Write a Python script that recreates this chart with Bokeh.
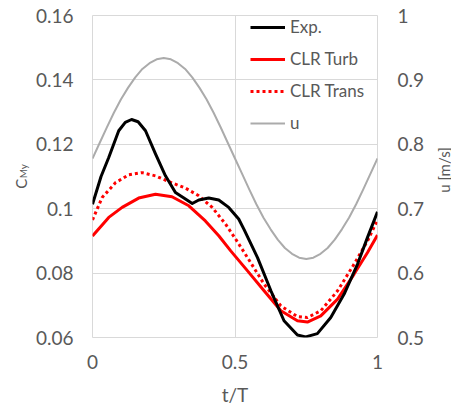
import math

from bokeh.embed import file_html
from bokeh.models import (ColumnDataSource, FixedTicker, Label, Legend,
                          LegendItem, LinearAxis, Range1d)
from bokeh.plotting import figure
from bokeh.resources import INLINE

# Measured moment coefficient C_My over one period (t/T)
exp_t = [0.0, 0.03, 0.057, 0.092, 0.115, 0.137, 0.16, 0.186, 0.221, 0.256,
         0.291, 0.326, 0.35, 0.373, 0.408, 0.443, 0.478, 0.513, 0.532, 0.579,
         0.626, 0.672, 0.719, 0.748, 0.789, 0.836, 0.883, 0.93, 0.965, 1.0]
exp_cmy = [0.1014, 0.1100, 0.1159, 0.1242, 0.1268, 0.1277, 0.1270, 0.1242,
           0.1170, 0.1102, 0.1050, 0.1030, 0.1016, 0.1027, 0.1033, 0.1027,
           0.1004, 0.0968, 0.0935, 0.0848, 0.0745, 0.0652, 0.0608, 0.0602,
           0.0612, 0.0662, 0.0735, 0.0828, 0.0911, 0.0990]

# CLR model, turbulent
turb_t = [0.0, 0.057, 0.104, 0.162, 0.221, 0.279, 0.338, 0.396, 0.443, 0.485,
          0.544, 0.602, 0.661, 0.719, 0.754, 0.801, 0.86, 0.918, 0.965, 1.0]
turb_cmy = [0.0915, 0.0973, 0.1004, 0.1033, 0.1045, 0.1037, 0.1009, 0.0962,
            0.0916, 0.0869, 0.0807, 0.0745, 0.0683, 0.0652, 0.0648, 0.0667,
            0.0719, 0.0797, 0.0864, 0.0918]

# CLR model, transitional
trans_t = [0.0, 0.034, 0.081, 0.127, 0.174, 0.221, 0.268, 0.326, 0.373, 0.42,
           0.467, 0.502, 0.544, 0.602, 0.661, 0.719, 0.754, 0.801, 0.86,
           0.918, 0.965, 1.0]
trans_cmy = [0.0965, 0.1035, 0.1081, 0.1105, 0.1112, 0.1102, 0.1084, 0.1064,
             0.1040, 0.1004, 0.0952, 0.0906, 0.0848, 0.0766, 0.0698, 0.0665,
             0.0662, 0.0683, 0.0745, 0.0828, 0.0900, 0.0965]

# Flow velocity u [m/s] (secondary axis)
u_t = [0.0, 0.025, 0.05, 0.075, 0.1, 0.125, 0.15, 0.175, 0.2, 0.225, 0.25,
       0.275, 0.3, 0.325, 0.35, 0.375, 0.4, 0.425, 0.45, 0.475, 0.5,
       0.525, 0.55, 0.575, 0.6, 0.625, 0.65, 0.675, 0.7, 0.725, 0.75,
       0.775, 0.8, 0.825, 0.85, 0.875, 0.9, 0.925, 0.95, 0.975, 1.0]
u_val = [0.778, 0.802, 0.826, 0.849, 0.870, 0.888, 0.904, 0.917, 0.926,
         0.932, 0.934, 0.932, 0.926, 0.917, 0.904, 0.888, 0.870, 0.849,
         0.826, 0.802, 0.778, 0.754, 0.730, 0.707, 0.686, 0.668, 0.652,
         0.639, 0.630, 0.624, 0.622, 0.624, 0.630, 0.639, 0.652, 0.668,
         0.686, 0.707, 0.730, 0.754, 0.778]

# Axis ticks and their labels
x_ticks = [0, 0.5, 1]
x_tick_labels = ["0", "0.5", "1"]
cmy_ticks = [0.06, 0.08, 0.10, 0.12, 0.14, 0.16]
cmy_tick_labels = ["0.06", "0.08", "0.1", "0.12", "0.14", "0.16"]
u_ticks = [0.5, 0.6, 0.7, 0.8, 0.9, 1.0]
u_tick_labels = ["0.5", "0.6", "0.7", "0.8", "0.9", "1"]

FONT = "Lato"
TXT = "#595959"
GRID = "#d9d9d9"

p = figure(width=451, height=410, output_backend="svg", toolbar_location=None,
           x_range=Range1d(0, 1), y_range=Range1d(0.06, 0.16),
           min_border_left=92, min_border_right=74, min_border_top=15,
           min_border_bottom=73)
p.extra_y_ranges = {"u": Range1d(0.5, 1.0)}
p.background_fill_color = "white"
p.border_fill_color = "white"
p.outline_line_color = GRID
p.outline_line_width = 1

u_axis = LinearAxis(y_range_name="u")
p.add_layout(u_axis, "right")


def style_axis(ax, ticks, labels, standoff):
    ax.ticker = FixedTicker(ticks=ticks)
    ax.major_label_overrides = {t: l for t, l in zip(ticks, labels)}
    ax.axis_line_color = None
    ax.major_tick_line_color = None
    ax.minor_tick_line_color = None
    ax.major_tick_out = 0
    ax.major_tick_in = 0
    ax.major_label_standoff = standoff
    ax.major_label_text_font = FONT
    ax.major_label_text_font_size = "19px"
    ax.major_label_text_color = TXT


style_axis(p.xaxis[0], x_ticks, x_tick_labels, 17)
style_axis(p.yaxis[0], cmy_ticks, cmy_tick_labels, 19)
style_axis(u_axis, u_ticks, u_tick_labels, 20)

p.xaxis[0].axis_label = "t/T"
p.xaxis[0].axis_label_text_font = FONT
p.xaxis[0].axis_label_text_font_size = "19px"
p.xaxis[0].axis_label_text_font_style = "normal"
p.xaxis[0].axis_label_text_color = TXT
p.xaxis[0].axis_label_standoff = 11

p.xgrid.ticker = FixedTicker(ticks=x_ticks)
p.ygrid.ticker = FixedTicker(ticks=cmy_ticks)
p.xgrid.grid_line_color = GRID
p.ygrid.grid_line_color = GRID

src_u = ColumnDataSource(dict(t=u_t, v=u_val))
src_trans = ColumnDataSource(dict(t=trans_t, v=trans_cmy))
src_turb = ColumnDataSource(dict(t=turb_t, v=turb_cmy))
src_exp = ColumnDataSource(dict(t=exp_t, v=exp_cmy))

r_u = p.line("t", "v", source=src_u, y_range_name="u", color="#ababab",
             line_width=2, line_join="round")
r_trans = p.line("t", "v", source=src_trans, color="#ff0000", line_width=3,
                 line_dash="3 3", line_join="round")
r_turb = p.line("t", "v", source=src_turb, color="#ff0000", line_width=3,
                line_join="round")
r_exp = p.line("t", "v", source=src_exp, color="#000000", line_width=3,
               line_join="round")

legend = Legend(items=[LegendItem(label="Exp.", renderers=[r_exp]),
                       LegendItem(label="CLR Turb", renderers=[r_turb]),
                       LegendItem(label="CLR Trans", renderers=[r_trans]),
                       LegendItem(label="u", renderers=[r_u])],
                location=(158, 204), orientation="vertical",
                padding=0, margin=0, spacing=11,
                glyph_width=35, glyph_height=20, label_height=20,
                label_standoff=5, border_line_color=None,
                background_fill_alpha=0,
                label_text_font=FONT, label_text_font_size="17px",
                label_text_color=TXT)
p.add_layout(legend, "center")


def px_to_t(sx):
    return (sx - 91.7) / 285


def px_to_cmy(sy):
    return 0.16 - (sy - 14.7) / 3220


# Rotated axis titles (C with subscript My on the left, u [m/s] on the
# right), kept in the side panels so they sit outside the plot frame.
title_c = Label(x=px_to_t(20.5), y=px_to_cmy(188), text="C",
                angle=math.pi / 2, text_font=FONT, text_font_size="15px",
                text_color=TXT, text_align="left", text_baseline="alphabetic")
title_my = Label(x=px_to_t(22), y=px_to_cmy(177.5), text="My",
                 angle=math.pi / 2, text_font=FONT, text_font_size="10px",
                 text_color=TXT, text_align="left",
                 text_baseline="alphabetic")
title_u = Label(x=px_to_t(443.5), y=px_to_cmy(192), text="u [m/s]",
                angle=math.pi / 2, text_font=FONT, text_font_size="15px",
                text_color=TXT, text_align="left", text_baseline="alphabetic")
p.add_layout(title_c, "left")
p.add_layout(title_my, "left")
p.add_layout(title_u, "right")

open("out.html", "w").write(file_html(p, INLINE))
